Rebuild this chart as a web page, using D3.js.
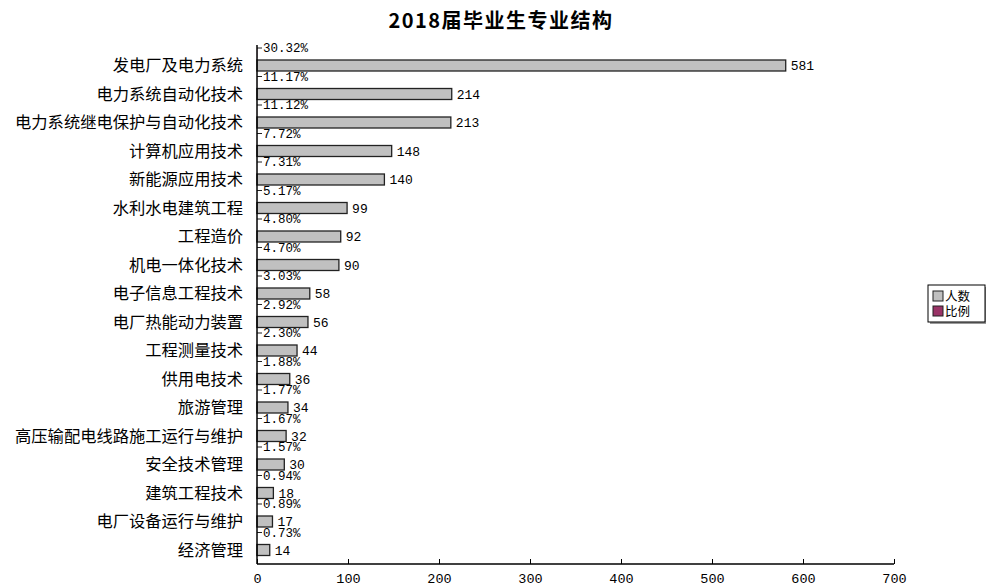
<!DOCTYPE html>
<html>
<head>
<meta charset="utf-8">
<script src="https://cdn.jsdelivr.net/npm/d3@7"></script>
<style>
  body { margin: 0; background: #fff; }
  svg { display: block; }
</style>
</head>
<body>
<div id="chart"></div>
<script>
const categories = ['发电厂及电力系统', '电力系统自动化技术', '电力系统继电保护与自动化技术', '计算机应用技术',
  '新能源应用技术', '水利水电建筑工程', '工程造价', '机电一体化技术', '电子信息工程技术', '电厂热能动力装置',
  '工程测量技术', '供用电技术', '旅游管理', '高压输配电线路施工运行与维护', '安全技术管理', '建筑工程技术',
  '电厂设备运行与维护', '经济管理'];
const counts = [581, 214, 213, 148, 140, 99, 92, 90, 58, 56, 44, 36, 34, 32, 30, 18, 17, 14];
const ratios = [30.32, 11.17, 11.12, 7.72, 7.31, 5.17, 4.80, 4.70, 3.03, 2.92, 2.30, 1.88, 1.77, 1.67, 1.57, 0.94, 0.89, 0.73];
const xTicks = [0, 100, 200, 300, 400, 500, 600, 700];
const legendItems = ['人数', '比例'];

const width = 986, height = 586;
const colors = ['#c0c0c0', '#993366'];
const monoFont = '"Liberation Mono", "DejaVu Sans Mono", monospace';
const cjkFont = '"Noto Sans CJK SC", sans-serif';

const svg = d3.select('#chart').append('svg')
  .attr('width', width)
  .attr('height', height);

svg.append('text')
  .attr('x', 501)
  .attr('y', 28)
  .attr('text-anchor', 'middle')
  .style('font-family', cjkFont)
  .style('font-size', '20px')
  .style('font-weight', 'bold')
  .style('letter-spacing', '1.5px')
  .text('2018届毕业生专业结构');

const x = d3.scaleLinear().domain([0, 700]).range([257, 894]);
const y = d3.scaleBand().domain(categories).range([45, 45 + 28.5 * categories.length]);
const axisY = 564;

const rows = svg.append('g').selectAll('g')
  .data(categories)
  .enter().append('g')
  .attr('transform', d => `translate(0, ${y(d)})`);

// count bars
rows.append('rect')
  .attr('x', x(0))
  .attr('y', 15)
  .attr('width', (d, i) => x(counts[i]) - x(0))
  .attr('height', 11)
  .style('fill', colors[0])
  .style('stroke', '#222')
  .style('stroke-width', 1.3);

rows.append('text')
  .attr('x', (d, i) => x(counts[i]) + 5)
  .attr('y', 20.5)
  .attr('dy', '0.35em')
  .style('font-family', monoFont)
  .style('font-size', '13px')
  .text((d, i) => counts[i]);

// ratio bars (percent on the same axis, so almost no width)
rows.append('rect')
  .attr('x', x(0))
  .attr('y', 3)
  .attr('width', (d, i) => x(ratios[i] / 100) - x(0))
  .attr('height', 10)
  .style('fill', colors[1]);

rows.append('line')
  .attr('x1', x(0))
  .attr('x2', x(0) + 5)
  .attr('y1', 3)
  .attr('y2', 3)
  .style('stroke', '#222')
  .style('stroke-width', 1);

rows.append('text')
  .attr('x', x(0) + 6)
  .attr('y', 3)
  .attr('dy', '0.35em')
  .style('font-family', monoFont)
  .style('font-size', '12.5px')
  .text((d, i) => ratios[i].toFixed(2) + '%');

// category labels
rows.append('text')
  .attr('x', 243)
  .attr('y', 20.5)
  .attr('dy', '0.35em')
  .attr('text-anchor', 'end')
  .style('font-family', cjkFont)
  .style('font-size', '16.3px')
  .text(d => d);

// axes
svg.append('line')
  .attr('x1', x(0)).attr('x2', x(0))
  .attr('y1', 45).attr('y2', axisY)
  .style('stroke', '#000').style('stroke-width', 1.5);

const xAxis = d3.axisBottom(x).tickValues(xTicks).tickSize(-5).tickPadding(9);
const gx = svg.append('g')
  .attr('transform', `translate(0, ${axisY})`)
  .call(xAxis);
gx.select('.domain').attr('d', `M${x(0)},0H${x(700)}`).style('stroke-width', 1.5);
gx.selectAll('.tick line').style('stroke', '#000');
gx.selectAll('.tick text')
  .style('font-family', monoFont)
  .style('font-size', '13.5px')
  .style('fill', '#000');

// legend
const legend = svg.append('g').attr('transform', 'translate(928, 285)');
legend.append('rect')
  .attr('x', 2).attr('y', 2)
  .attr('width', 57).attr('height', 37)
  .style('fill', '#999');
legend.append('rect')
  .attr('width', 57).attr('height', 37)
  .style('fill', '#fff')
  .style('stroke', '#000')
  .style('stroke-width', 1);
const li = legend.selectAll('.item')
  .data(legendItems)
  .enter().append('g')
  .attr('class', 'item')
  .attr('transform', (d, i) => `translate(5, ${6 + i * 15})`);
li.append('rect')
  .attr('width', 10).attr('height', 10)
  .style('fill', (d, i) => colors[i])
  .style('stroke', '#222');
li.append('text')
  .attr('x', 12)
  .attr('y', 5)
  .attr('dy', '0.36em')
  .style('font-family', cjkFont)
  .style('font-size', '12.5px')
  .text(d => d);
</script>
</body>
</html>
